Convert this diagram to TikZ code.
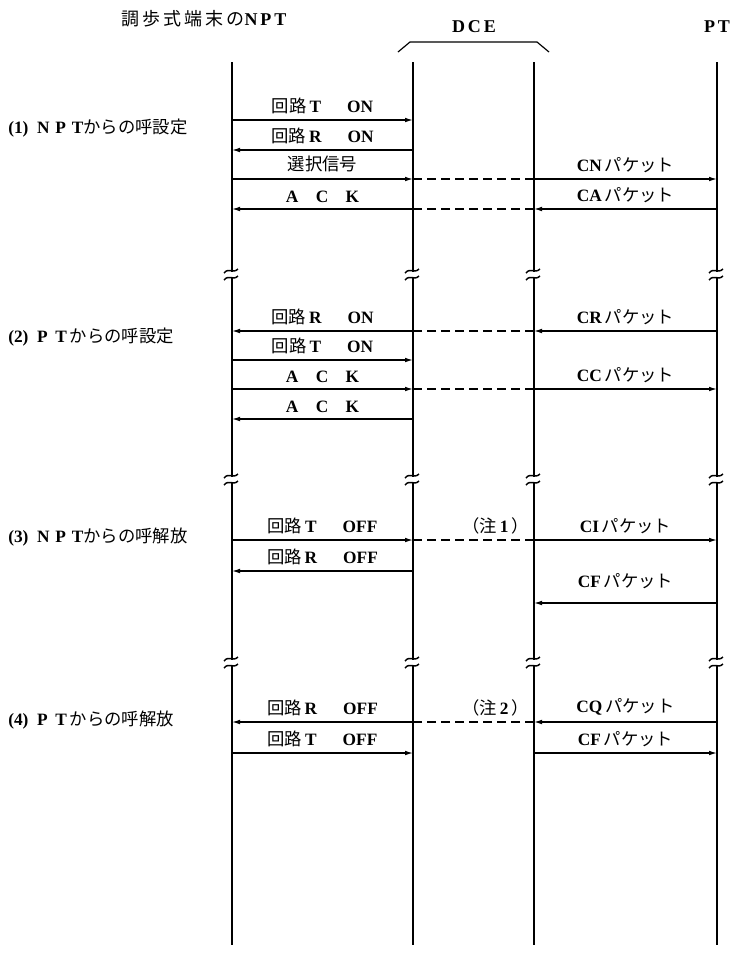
\documentclass[tikz,border=0pt]{standalone}
\usepackage{fontspec}
\setmainfont{Liberation Serif}
\newfontfamily\jpfont{Noto Sans CJK JP}
\newcommand{\jp}{\jpfont\mdseries}
\usetikzlibrary{arrows.meta,positioning,calc}

\tikzset{
    % Lifelines and headings
    lifeline/.style={line width=1.5pt, color=black},
    header/.style={font=\fontsize{13.5}{15}\selectfont\bfseries, inner sep=0pt},
    phase/.style={anchor=west, font=\fontsize{13}{15}\selectfont\bfseries, inner sep=0pt},
    brace/.style={line width=0.9pt},
    breakmark/.style={line width=1.1pt},
    % Messages
    msg/.style={-{Latex[length=6pt,width=3.5pt]}, line width=0.9pt},
    relay/.style={line width=0.9pt, dash pattern=on 7pt off 3.5pt},
    msg label/.style={font=\fontsize{13}{15}\selectfont\bfseries, inner sep=0pt, above=4.5pt},
    note/.style={font=\fontsize{13}{15}\selectfont\bfseries, inner sep=0pt, anchor=south east}
}

\begin{document}
\begin{tikzpicture}[x=0.75pt, y=-0.75pt]
        \useasboundingbox (0,0) rectangle (733,961);

        % Lifelines
        \coordinate (npt) at (232,62);
        \coordinate (dcel) at (413,62);
        \coordinate (dcer) at (534,62);
        \coordinate (pt) at (717,62);
        \coordinate (bottom) at (0,945);
        \draw[lifeline] (npt) -- (npt |- bottom);
        \draw[lifeline] (dcel) -- (dcel |- bottom);
        \draw[lifeline] (dcer) -- (dcer |- bottom);
        \draw[lifeline] (pt) -- (pt |- bottom);

        % Headings
        \node[header] (npthead) at (204,19) {{\jp 調\,歩\,式\,端\,末\,の}N\,P\,T};
        \node[header] (dcehead) at (474,27) {D\,C\,E};
        \node[header] (pthead) at (717,27) {P\,T};
        \draw[brace] ($(dcel)+(-15,-10)$) -- ($(dcel)+(-3,-20)$) -- ($(dcer)+(3,-20)$) -- ($(dcer)+(15,-10)$);

        % Breaks in the lifelines
        \foreach \bx in {232,413,534,717}
          \foreach \by in {275,480,663} {
            \fill[white] (\bx-2,\by-3) rectangle (\bx+2,\by+3);
            \draw[breakmark] (\bx-8,\by-2) .. controls (\bx-3,\by-8) and (\bx+1,\by-1) .. (\bx+6,\by-6);
            \draw[breakmark] (\bx-8,\by+5) .. controls (\bx-3,\by-1) and (\bx+1,\by+6) .. (\bx+6,\by+1);
          }

        % Phase labels
        \node[phase] (ph1) at (8,128) {(1)\enspace N\,\,P\,\,T{\jp からの呼設定}};
        \node[phase] (ph2) at (8,337) {(2)\enspace P\;\,T{\jp \,からの呼設定}};
        \node[phase] (ph3) at (8,537) {(3)\enspace N\,\,P\,\,T{\jp からの呼解放}};
        \node[phase] (ph4) at (8,720) {(4)\enspace P\;\,T{\jp \,からの呼解放}};

        % (1) call set-up from the NPT
        \coordinate (s1a) at (0,120);
        \coordinate (s1b) at (0,150);
        \coordinate (s1c) at (0,179);
        \coordinate (s1d) at (0,209);
        \draw[msg] (npt |- s1a) -- node[msg label] {{\jp 回路}\,T\quad\enspace ON} (dcel |- s1a);
        \draw[msg] (dcel |- s1b) -- node[msg label] {{\jp 回路}\,R\quad\enspace ON} (npt |- s1b);
        \draw[msg] (npt |- s1c) -- node[msg label] {{\jp 選択信号}} (dcel |- s1c);
        \draw[relay] (dcel |- s1c) -- (dcer |- s1c);
        \draw[msg] (dcer |- s1c) -- node[msg label] {CN\,{\jp パケット}} (pt |- s1c);
        \draw[msg] (pt |- s1d) -- node[msg label] {CA\,{\jp パケット}} (dcer |- s1d);
        \draw[relay] (dcer |- s1d) -- (dcel |- s1d);
        \draw[msg] (dcel |- s1d) -- node[msg label] {A\quad C\quad K} (npt |- s1d);

        % (2) call set-up from the PT
        \coordinate (s2a) at (0,331);
        \coordinate (s2b) at (0,360);
        \coordinate (s2c) at (0,389);
        \coordinate (s2d) at (0,419);
        \draw[msg] (pt |- s2a) -- node[msg label] {CR\,{\jp パケット}} (dcer |- s2a);
        \draw[relay] (dcer |- s2a) -- (dcel |- s2a);
        \draw[msg] (dcel |- s2a) -- node[msg label] {{\jp 回路}\,R\quad\enspace ON} (npt |- s2a);
        \draw[msg] (npt |- s2b) -- node[msg label] {{\jp 回路}\,T\quad\enspace ON} (dcel |- s2b);
        \draw[msg] (npt |- s2c) -- node[msg label] {A\quad C\quad K} (dcel |- s2c);
        \draw[relay] (dcel |- s2c) -- (dcer |- s2c);
        \draw[msg] (dcer |- s2c) -- node[msg label] {CC\,{\jp パケット}} (pt |- s2c);
        \draw[msg] (dcel |- s2d) -- node[msg label] {A\quad C\quad K} (npt |- s2d);

        % (3) call release from the NPT
        \coordinate (s3a) at (0,540);
        \coordinate (s3b) at (0,571);
        \coordinate (s3c) at (0,603);
        \draw[msg] (npt |- s3a) -- node[msg label] {{\jp 回路}\,T\quad\enspace OFF} (dcel |- s3a);
        \draw[relay] (dcel |- s3a) -- (dcer |- s3a);
        \node[note] (note1) at ($(dcer |- s3a)+(-5,-6)$) {{\jp （注}\,1\,{\jp ）}};
        \draw[msg] (dcer |- s3a) -- node[msg label] {CI\,{\jp パケット}} (pt |- s3a);
        \draw[msg] (dcel |- s3b) -- node[msg label] {{\jp 回路}\,R\quad\enspace OFF} (npt |- s3b);
        \draw[msg] (pt |- s3c) -- node[msg label, above=10pt] {CF\,{\jp パケット}} (dcer |- s3c);

        % (4) call release from the PT
        \coordinate (s4a) at (0,722);
        \coordinate (s4b) at (0,753);
        \draw[msg] (pt |- s4a) -- node[msg label] {CQ\,{\jp パケット}} (dcer |- s4a);
        \draw[relay] (dcer |- s4a) -- (dcel |- s4a);
        \node[note] (note2) at ($(dcer |- s4a)+(-5,-6)$) {{\jp （注}\,2\,{\jp ）}};
        \draw[msg] (dcel |- s4a) -- node[msg label] {{\jp 回路}\,R\quad\enspace OFF} (npt |- s4a);
        \draw[msg] (npt |- s4b) -- node[msg label] {{\jp 回路}\,T\quad\enspace OFF} (dcel |- s4b);
        \draw[msg] (dcer |- s4b) -- node[msg label] {CF\,{\jp パケット}} (pt |- s4b);
    \end{tikzpicture}
\end{document}
